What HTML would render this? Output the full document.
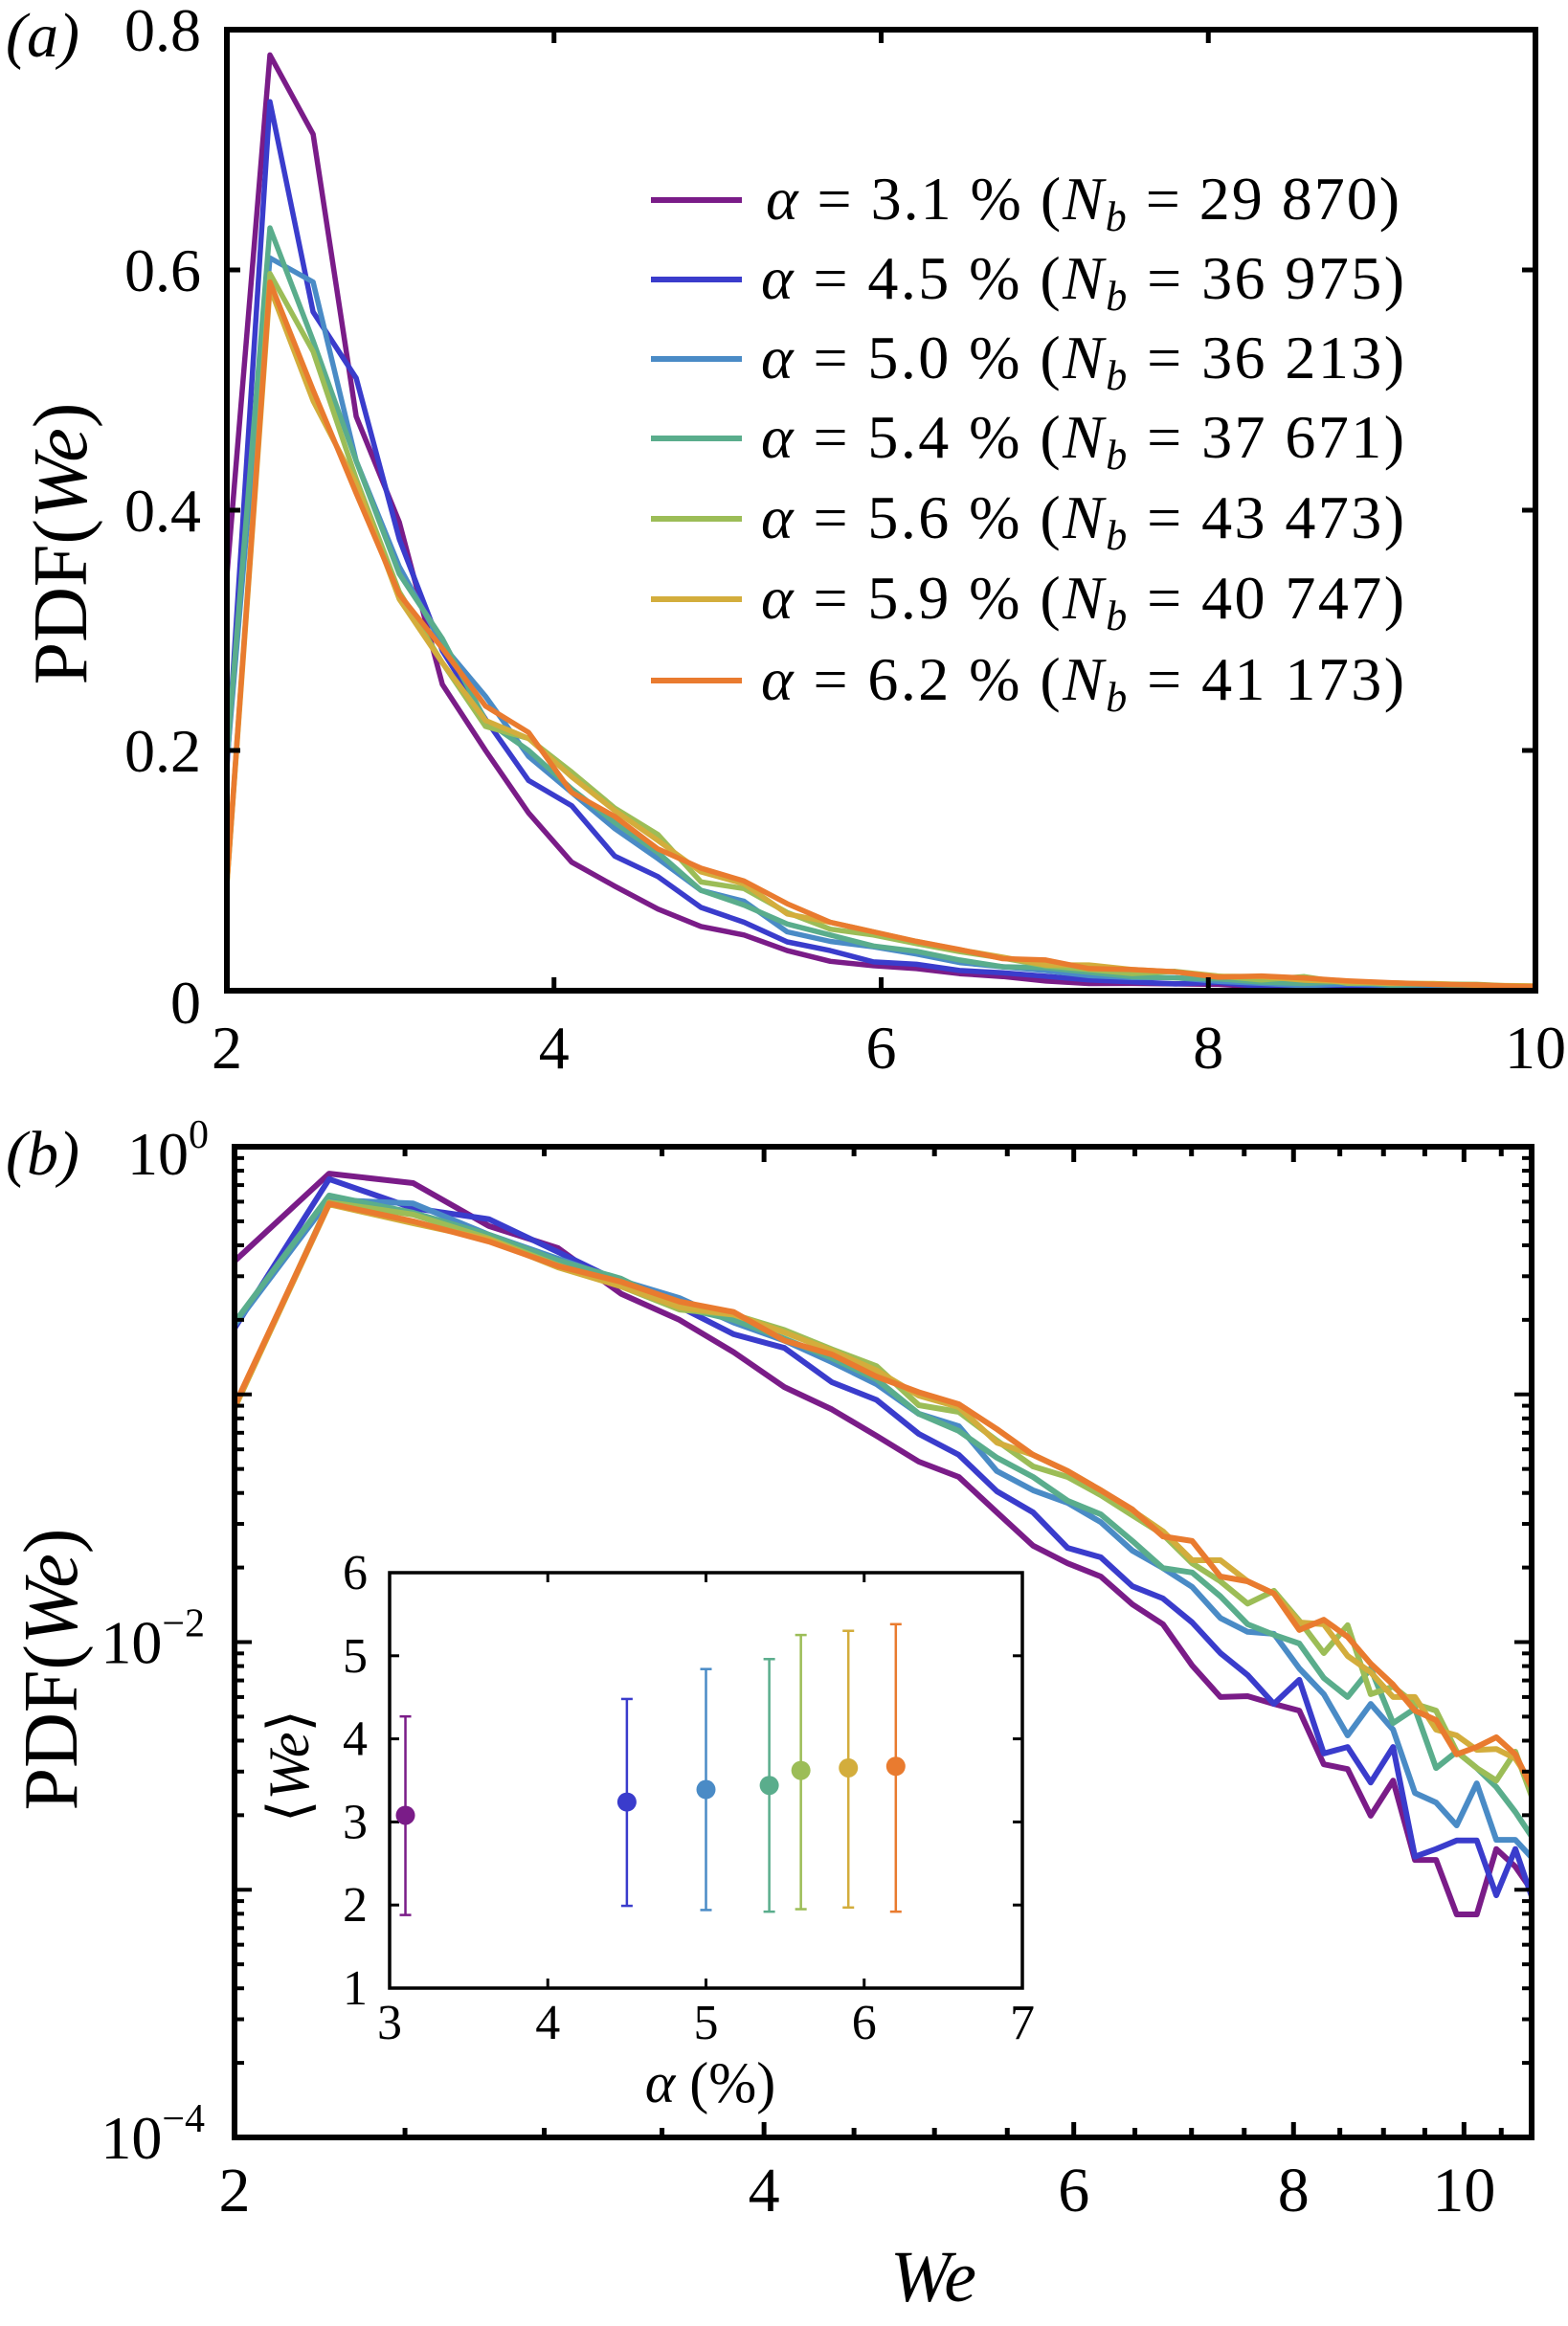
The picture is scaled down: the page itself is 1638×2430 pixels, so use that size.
<!DOCTYPE html>
<html><head><meta charset="utf-8"><style>
html,body{margin:0;padding:0;background:#fff;}
svg{display:block;}
svg text{font-family:"Liberation Serif","Times New Roman",serif;}
</style></head><body>
<svg id="fig" width="1638" height="2430" viewBox="0 0 1638 2430" xmlns="http://www.w3.org/2000/svg" font-family="Liberation Serif, serif">
<g id="pa"></g>
<g id="pb"></g>
<g id="pi"></g>
</svg>
<script>
const alphaLabels = ["3.1","4.5","5.0","5.4","5.6","5.9","6.2"];
const nbLabels = ["29 870","36 975","36 213","37 671","43 473","40 747","41 173"];
const colors = ["#7a1c88","#3a3ccc","#4a8bc6","#5aad8c","#9cbd57","#d3ad3c","#e97b2f"];
const binStart = 2, binStep = 0.2635;
const pdf31 = [0.345,0.779,0.713,0.478,0.39,0.255,0.200,0.148,0.107,0.087,0.068,0.0535,0.0464,0.0334,0.0245,0.0208,0.0184,0.0142,0.0118,0.00804,0.00600,0.00605,0.00563,0.00529,0.00321,0.00307,0.00199,0.00276,0.00132,0.00132,0.000795,0.000795,0.00146,0.00124,0.000967];
const pdf45 = [0.185,0.74,0.565,0.51,0.376,0.283,0.226,0.175,0.154,0.112,0.095,0.0693,0.0570,0.0406,0.0334,0.0240,0.0220,0.0168,0.0150,0.0120,0.00903,0.00736,0.00563,0.00704,0.00355,0.00377,0.00271,0.00377,0.00136,0.00146,0.00158,0.00158,0.000950,0.00146,0.000885];
const pdf50 = [0.19,0.61,0.59,0.441,0.353,0.288,0.245,0.195,0.165,0.135,0.11,0.0835,0.0744,0.0490,0.0410,0.0365,0.0305,0.0234,0.0199,0.0167,0.0125,0.0110,0.0108,0.00783,0.00616,0.00420,0.00563,0.00443,0.00246,0.00225,0.00182,0.00269,0.00159,0.00159,0.00132];
const pdf54 = [0.195,0.635,0.541,0.441,0.347,0.293,0.225,0.20,0.168,0.14,0.115,0.0835,0.0712,0.0555,0.0464,0.0372,0.0328,0.0256,0.0199,0.0191,0.0153,0.0118,0.0107,0.00987,0.00716,0.00600,0.00783,0.00471,0.00539,0.00310,0.00361,0.00310,0.00260,0.00206,0.00159];
const pdf56 = [0.088,0.597,0.532,0.426,0.332,0.273,0.22,0.21,0.182,0.152,0.13,0.0905,0.0850,0.0651,0.0512,0.0464,0.0392,0.0325,0.0272,0.0208,0.0176,0.0143,0.0161,0.0122,0.00903,0.0117,0.00616,0.00661,0.00563,0.00529,0.00361,0.00310,0.00276,0.00361,0.00225];
const pdf59 = [0.088,0.585,0.491,0.422,0.326,0.273,0.225,0.21,0.178,0.15,0.125,0.0989,0.0889,0.0639,0.0570,0.0490,0.0410,0.0340,0.0280,0.0214,0.0214,0.0176,0.0157,0.0120,0.0118,0.00879,0.00755,0.00600,0.00600,0.00443,0.00420,0.00367,0.00370,0.00339,0.00260];
const pdf62 = [0.09,0.59,0.50,0.414,0.33,0.285,0.237,0.215,0.165,0.145,0.118,0.102,0.0913,0.0724,0.0570,0.0490,0.0410,0.0343,0.0267,0.0256,0.0184,0.0176,0.0157,0.0112,0.0123,0.0105,0.00818,0.00673,0.00529,0.00484,0.00352,0.00377,0.00413,0.00352,0.00248];
const allSeries = [pdf31,pdf45,pdf50,pdf54,pdf56,pdf59,pdf62];
const insetAlpha = [3.1,4.5,5.0,5.4,5.6,5.9,6.2];
const insetMean = [3.08,3.24,3.39,3.44,3.62,3.65,3.67];
const insetLow = [1.88,1.99,1.94,1.92,1.95,1.97,1.92];
const insetHigh = [4.27,4.48,4.84,4.96,5.25,5.30,5.38];
const aXTicks = [2,4,6,8,10];
const aYTicks = [0,0.2,0.4,0.6,0.8];
const aYTickLabels = ["0","0.2","0.4","0.6","0.8"];
const bXTickLabels = [2,4,6,8,10];
const bYExps = [0,-2,-4];
const inXTicks = [3,4,5,6,7];
const inYTicks = [1,2,3,4,5,6];

const NS="http://www.w3.org/2000/svg";
const FF="Liberation Serif, Times New Roman, serif";
function mk(parent,tag,attrs,text){const e=document.createElementNS(NS,tag);for(const k in attrs)e.setAttribute(k,attrs[k]);if(tag==='text')e.setAttribute('font-family',FF);if(text!==undefined)e.textContent=text;parent.appendChild(e);return e;}
const binX = allSeries[0].map((_,i)=>binStart+binStep*i);

// ---------- Panel A ----------
const A={x0:237,x1:1604,y0:1035,y1:31};
const ax=v=>A.x0+(v-2)/8*(A.x1-A.x0);
const ay=v=>A.y0-(v/0.8)*(A.y0-A.y1);
const pa=document.getElementById('pa');
const clipA=mk(pa,'clipPath',{id:'clipA'});mk(clipA,'rect',{x:A.x0,y:A.y1,width:A.x1-A.x0,height:A.y0-A.y1});
allSeries.forEach((s,k)=>{
  const d=s.map((v,i)=>(i?'L':'M')+ax(binX[i]).toFixed(1)+','+ay(v).toFixed(1)).join('');
  const p=mk(pa,'path',{d:d,fill:'none',stroke:colors[k],'stroke-width':5.5,'stroke-linejoin':'round','clip-path':'url(#clipA)'});
  
  
});
mk(pa,'rect',{x:A.x0,y:A.y1,width:A.x1-A.x0,height:A.y0-A.y1,fill:'none',stroke:'#000','stroke-width':6});
aXTicks.forEach(v=>{const x=ax(v);
  mk(pa,'line',{x1:x,x2:x,y1:A.y0,y2:A.y0-14,stroke:'#000','stroke-width':5});
  mk(pa,'line',{x1:x,x2:x,y1:A.y1,y2:A.y1+14,stroke:'#000','stroke-width':5});
  const t=mk(pa,'text',{x:x,y:1116,'font-size':64,'text-anchor':'middle'},String(v));
  
  
});
aYTicks.forEach((v,i)=>{const y=ay(v);
  mk(pa,'line',{x1:A.x0,x2:A.x0+14,y1:y,y2:y,stroke:'#000','stroke-width':5});
  mk(pa,'line',{x1:A.x1,x2:A.x1-14,y1:y,y2:y,stroke:'#000','stroke-width':5});
  const t=mk(pa,'text',{x:210,y:(i==0?y+34:y+22),'font-size':64,'text-anchor':'end'},aYTickLabels[i]);
  
  
});
{const t=mk(pa,'text',{x:6,y:59,'font-size':66,'font-style':'italic'},'(a)');}
{const t=mk(pa,'text',{x:0,y:0,'font-size':80,'text-anchor':'middle',transform:'translate(90,568) rotate(-90)'},'');t.innerHTML='PDF(<tspan font-style="italic">We</tspan>)';}
// legend
const legY=[209,292,375,458,542,626,711];
alphaLabels.forEach((a,k)=>{
  const g=mk(pa,'g',{});
  
  
  mk(g,'line',{x1:680,x2:775,y1:legY[k],y2:legY[k],stroke:colors[k],'stroke-width':6});
  const t=mk(g,'text',{x:(k==0?800:795),y:legY[k]+20,'font-size':64,textLength:(k==0?662:672),lengthAdjust:'spacing'},'');
  t.innerHTML='<tspan font-style="italic">α</tspan> = '+a+(k==0?' % (':'  % (')+'<tspan font-style="italic">N</tspan><tspan font-style="italic" font-size="44" dy="12">b</tspan><tspan dy="-12"> = '+nbLabels[k]+')</tspan>';
});

// ---------- Panel B ----------
const B={x0:245,x1:1600,y0:2233,y1:1198};
const bx=v=>B.x0+798*Math.log(v/2);
const byf=v=>B.y1+(-Math.log10(v))*(B.y0-B.y1)/4;
const pb=document.getElementById('pb');
const clipB=mk(pb,'clipPath',{id:'clipB'});mk(clipB,'rect',{x:B.x0,y:B.y1,width:B.x1-B.x0,height:B.y0-B.y1});
allSeries.forEach((s,k)=>{
  const d=s.map((v,i)=>(i?'L':'M')+bx(binX[i]).toFixed(1)+','+byf(v).toFixed(1)).join('');
  const p=mk(pb,'path',{d:d,fill:'none',stroke:colors[k],'stroke-width':6,'stroke-linejoin':'round','clip-path':'url(#clipB)'});
  
  
});
mk(pb,'rect',{x:B.x0,y:B.y1,width:B.x1-B.x0,height:B.y0-B.y1,fill:'none',stroke:'#000','stroke-width':6});
for(let v=2.5;v<=10.9;v+=0.5){const x=bx(v);const L=(v%2==0)?16:10;
  mk(pb,'line',{x1:x,x2:x,y1:B.y0,y2:B.y0-L,stroke:'#000','stroke-width':5});
  mk(pb,'line',{x1:x,x2:x,y1:B.y1,y2:B.y1+L,stroke:'#000','stroke-width':5});}
for(let e=-4;e<0;e++){for(let m=1;m<10;m++){const y=byf(m*Math.pow(10,e));const L=(m==1)?18:10;
  mk(pb,'line',{x1:B.x0,x2:B.x0+L,y1:y,y2:y,stroke:'#000','stroke-width':4});
  mk(pb,'line',{x1:B.x1,x2:B.x1-L,y1:y,y2:y,stroke:'#000','stroke-width':4});}}
bXTickLabels.forEach(v=>{const t=mk(pb,'text',{x:bx(v),y:2310,'font-size':66,'text-anchor':'middle'},String(v));});
bYExps.forEach(e=>{const y=byf(Math.pow(10,e));
  const t=mk(pb,'text',{x:(e==0?218:214),y:(e==0?1227:y+22),'font-size':64,'text-anchor':'end'},'');
  t.innerHTML='10<tspan font-size="42" dy="-28">'+(e<0?'−'+(-e):e)+'</tspan>';
  
  
});
{const t=mk(pb,'text',{x:6,y:1227,'font-size':66,'font-style':'italic'},'(b)');}
{const t=mk(pb,'text',{x:0,y:0,'font-size':80,'text-anchor':'middle',transform:'translate(80,1744) rotate(-90)'},'');t.innerHTML='PDF(<tspan font-style="italic">We</tspan>)';}
{const t=mk(pb,'text',{x:975,y:2404,'font-size':76,'font-style':'italic','text-anchor':'middle'},'We');}

// ---------- Inset ----------
const I={x0:407,x1:1068,y0:2077,y1:1643};
const ix=v=>I.x0+(v-3)/4*(I.x1-I.x0);
const iy=v=>I.y0-(v-1)/5*(I.y0-I.y1);
const pi=document.getElementById('pi');
mk(pi,'rect',{x:I.x0,y:I.y1,width:I.x1-I.x0,height:I.y0-I.y1,fill:'#fff',stroke:'#000','stroke-width':3.5});
inXTicks.forEach(v=>{const x=ix(v);
  mk(pi,'line',{x1:x,x2:x,y1:I.y0,y2:I.y0-10,stroke:'#000','stroke-width':3});
  mk(pi,'line',{x1:x,x2:x,y1:I.y1,y2:I.y1+10,stroke:'#000','stroke-width':3});
  const t=mk(pi,'text',{x:x,y:2130,'font-size':52,'text-anchor':'middle'},String(v));});
inYTicks.forEach(v=>{const y=iy(v);
  mk(pi,'line',{x1:I.x0,x2:I.x0+10,y1:y,y2:y,stroke:'#000','stroke-width':3});
  mk(pi,'line',{x1:I.x1,x2:I.x1-10,y1:y,y2:y,stroke:'#000','stroke-width':3});
  const t=mk(pi,'text',{x:384,y:y+17,'font-size':52,'text-anchor':'end'},String(v));});
insetAlpha.forEach((a,k)=>{
  const g=mk(pi,'g',{});
  
  
  const x=ix(a);
  mk(g,'line',{x1:x,x2:x,y1:iy(insetLow[k]),y2:iy(insetHigh[k]),stroke:colors[k],'stroke-width':2.5});
  mk(g,'line',{x1:x-6,x2:x+6,y1:iy(insetLow[k]),y2:iy(insetLow[k]),stroke:colors[k],'stroke-width':2.5});
  mk(g,'line',{x1:x-6,x2:x+6,y1:iy(insetHigh[k]),y2:iy(insetHigh[k]),stroke:colors[k],'stroke-width':2.5});
  mk(g,'circle',{cx:x,cy:iy(insetMean[k]),r:10,fill:colors[k]});
});
{const t=mk(pi,'text',{x:742,y:2196,'font-size':60,'text-anchor':'middle'},'');t.innerHTML='<tspan font-style="italic">α</tspan> (%)';}
{const t=mk(pi,'text',{x:0,y:0,'font-size':60,'text-anchor':'middle',transform:'translate(322,1845) rotate(-90)'},'');t.innerHTML='⟨<tspan font-style="italic">We</tspan>⟩';}
</script>
</body></html>
